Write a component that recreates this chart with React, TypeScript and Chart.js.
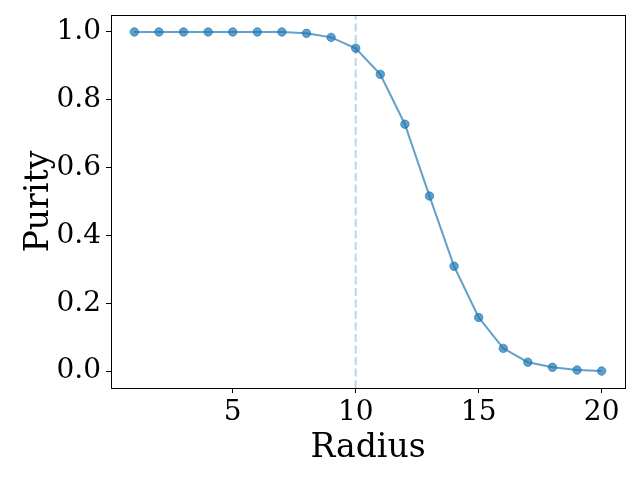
import React, { useEffect, useRef } from "react";
import { Chart, registerables } from "chart.js";

Chart.register(...registerables);

const radius = [1, 2, 3, 4, 5, 6, 7, 8, 9, 10, 11, 12, 13, 14, 15, 16, 17, 18, 19, 20];
const purity = [1.0, 1.0, 1.0, 1.0, 1.0, 1.0, 1.0, 0.996, 0.984, 0.952, 0.875, 0.728, 0.516, 0.309, 0.158, 0.067, 0.026, 0.011, 0.003, 0.0];
const markerRadius = 10;
const xTicks = [5, 10, 15, 20];
const yTicks = [0.0, 0.2, 0.4, 0.6, 0.8, 1.0];
const xRange = [0.05, 20.95];
const yRange = [-0.05, 1.05];

const FONT = "'DejaVu Serif', serif";
const BLUE = "rgba(31,119,180,0.7)";

const framePlugin = {
  id: "frame",
  afterDatasetsDraw(chart: any) {
    const { ctx, chartArea } = chart;
    ctx.save();
    ctx.strokeStyle = "#000";
    ctx.lineWidth = 1;
    ctx.strokeRect(
      Math.round(chartArea.left) + 0.5,
      Math.round(chartArea.top) + 0.5,
      Math.round(chartArea.right - chartArea.left),
      Math.round(chartArea.bottom - chartArea.top)
    );
    ctx.restore();
  },
};

export default function App() {
  const ref = useRef<HTMLCanvasElement>(null);
  useEffect(() => {
    document.body.style.margin = "0";
    const chart = new Chart(ref.current!, {
      type: "scatter",
      data: {
        datasets: [
          {
            data: [
              { x: markerRadius, y: yRange[0] },
              { x: markerRadius, y: yRange[1] },
            ],
            showLine: true,
            borderColor: "rgba(31,119,180,0.3)",
            borderWidth: 2,
            borderDash: [8, 3.5],
            pointRadius: 0,
          },
          {
            data: radius.map((r, i) => ({ x: r, y: purity[i] })),
            showLine: true,
            borderColor: BLUE,
            borderWidth: 2,
            pointRadius: 4.2,
            pointBackgroundColor: BLUE,
            pointBorderColor: BLUE,
            pointBorderWidth: 1,
          },
        ],
      },
      options: {
        animation: false,
        responsive: false,
        maintainAspectRatio: false,
        layout: { padding: { top: 15, right: 15, left: 0, bottom: 0 } },
        plugins: { legend: { display: false }, tooltip: { enabled: false } },
        scales: {
          x: {
            type: "linear",
            min: xRange[0],
            max: xRange[1],
            afterBuildTicks: (s: any) => {
              s.ticks = xTicks.map((v) => ({ value: v }));
            },
            afterFit: (s: any) => {
              s.height = 92;
              s.paddingLeft = 0;
              s.paddingRight = 0;
            },
            grid: { drawOnChartArea: false, drawTicks: true, tickLength: 5, color: "#000" },
            border: { display: true, color: "#000" },
            ticks: { color: "#000", font: { family: FONT, size: 28 }, padding: 3, maxRotation: 0 },
            title: {
              display: true,
              text: "Radius",
              color: "#000",
              font: { family: FONT, size: 33 },
              padding: { top: 0, bottom: 12 },
            },
          },
          y: {
            type: "linear",
            min: yRange[0],
            max: yRange[1],
            afterBuildTicks: (s: any) => {
              s.ticks = yTicks.map((v) => ({ value: v }));
            },
            afterFit: (s: any) => {
              s.width = 111;
              s.paddingTop = 0;
              s.paddingBottom = 0;
            },
            grid: { drawOnChartArea: false, drawTicks: true, tickLength: 5, color: "#000" },
            border: { display: true, color: "#000" },
            ticks: {
              color: "#000",
              font: { family: FONT, size: 28 },
              padding: 5,
              callback: (v: any) => Number(v).toFixed(1),
            },
            title: {
              display: true,
              text: "Purity",
              color: "#000",
              font: { family: FONT, size: 33 },
              padding: { top: 20, bottom: 0 },
            },
          },
        },
      },
      plugins: [framePlugin],
    });
    return () => chart.destroy();
  }, []);
  return (
    <div style={{ position: "absolute", left: 0, top: 0, width: 640, height: 480 }}>
      <canvas ref={ref} width={640} height={480} style={{ width: 640, height: 480 }} />
    </div>
  );
}
